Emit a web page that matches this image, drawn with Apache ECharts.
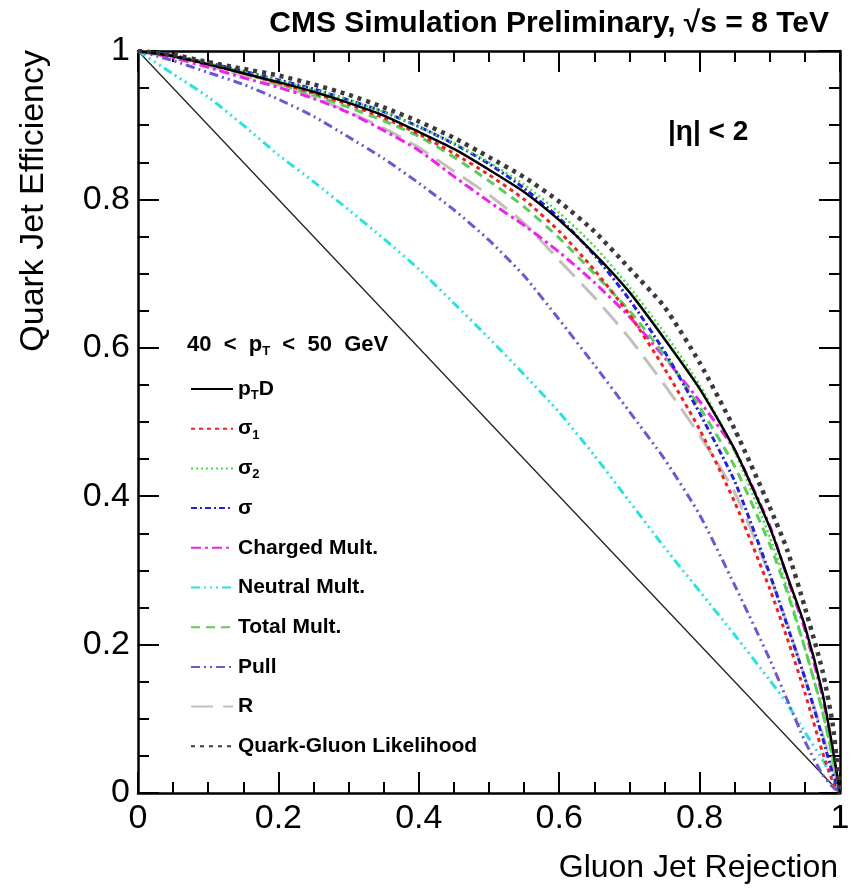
<!DOCTYPE html>
<html>
<head>
<meta charset="utf-8">
<script src="https://cdn.jsdelivr.net/npm/echarts@6/dist/echarts.min.js"></script>
<style>
  html, body { margin: 0; padding: 0; background: #fff; }
  #main { width: 855px; height: 896px; }
</style>
</head>
<body>
<div id="main"></div>
<script>
// gluon jet rejection (x) shared by every curve
var rejection = [0, 0.05, 0.1, 0.15, 0.2, 0.25, 0.3, 0.35, 0.4, 0.45, 0.5, 0.55, 0.6, 0.65, 0.7, 0.75, 0.8, 0.85, 0.9, 0.925, 0.95, 0.975, 0.99, 1];

// quark jet efficiency for each variable
var ptd     = [1, 0.993, 0.982, 0.970, 0.958, 0.945, 0.930, 0.913, 0.891, 0.868, 0.840, 0.810, 0.772, 0.727, 0.675, 0.612, 0.545, 0.463, 0.358, 0.292, 0.225, 0.135, 0.058, 0];
var sigma1  = [1, 0.993, 0.982, 0.970, 0.957, 0.943, 0.928, 0.910, 0.888, 0.862, 0.833, 0.800, 0.757, 0.705, 0.645, 0.572, 0.490, 0.392, 0.275, 0.208, 0.135, 0.055, 0.015, 0];
var sigma2  = [1, 0.993, 0.983, 0.972, 0.960, 0.948, 0.934, 0.918, 0.898, 0.876, 0.850, 0.820, 0.782, 0.737, 0.682, 0.620, 0.550, 0.460, 0.345, 0.275, 0.195, 0.110, 0.045, 0];
var sigma   = [1, 0.994, 0.984, 0.973, 0.961, 0.949, 0.934, 0.918, 0.898, 0.875, 0.848, 0.815, 0.775, 0.725, 0.665, 0.595, 0.512, 0.420, 0.295, 0.225, 0.155, 0.075, 0.025, 0];
var charged = [1, 0.991, 0.978, 0.964, 0.951, 0.936, 0.917, 0.893, 0.866, 0.831, 0.797, 0.765, 0.729, 0.688, 0.642, 0.587, 0.528, 0.462, 0.360, 0.290, 0.220, 0.130, 0.055, 0];
var neutral = [1, 0.969, 0.938, 0.900, 0.860, 0.824, 0.786, 0.747, 0.706, 0.660, 0.613, 0.564, 0.513, 0.455, 0.393, 0.331, 0.272, 0.213, 0.152, 0.120, 0.082, 0.045, 0.018, 0];
var total   = [1, 0.993, 0.983, 0.970, 0.956, 0.941, 0.924, 0.906, 0.885, 0.857, 0.825, 0.790, 0.748, 0.700, 0.650, 0.590, 0.520, 0.440, 0.335, 0.270, 0.195, 0.110, 0.045, 0];
var pull    = [1, 0.987, 0.971, 0.955, 0.935, 0.912, 0.884, 0.855, 0.822, 0.786, 0.745, 0.697, 0.638, 0.577, 0.514, 0.450, 0.375, 0.280, 0.180, 0.125, 0.070, 0.025, 0.008, 0];
var rVar    = [1, 0.992, 0.980, 0.967, 0.954, 0.938, 0.918, 0.896, 0.870, 0.838, 0.806, 0.768, 0.718, 0.668, 0.613, 0.550, 0.482, 0.405, 0.293, 0.228, 0.155, 0.080, 0.032, 0];
var qgl     = [1, 0.995, 0.985, 0.976, 0.967, 0.955, 0.941, 0.924, 0.905, 0.883, 0.857, 0.830, 0.797, 0.757, 0.707, 0.655, 0.580, 0.490, 0.385, 0.327, 0.250, 0.165, 0.090, 0];

// random-guess diagonal
var diagX = [0, 1];
var diagY = [1, 0];

var names = ['ptd', 'sigma1', 'sigma2', 'sigma', 'charged', 'neutral', 'total', 'pull', 'r', 'qgl'];
var labels = {
    ptd: 'p{s|T}D',
    sigma1: 'σ{s|1}',
    sigma2: 'σ{s|2}',
    sigma: 'σ',
    charged: 'Charged Mult.',
    neutral: 'Neutral Mult.',
    total: 'Total Mult.',
    pull: 'Pull',
    r: 'R',
    qgl: 'Quark-Gluon Likelihood'
};

var font = 'Liberation Sans, Arial, sans-serif';

function pairs(xs, ys) {
    var out = [];
    for (var i = 0; i < xs.length; i++) out.push([xs[i], ys[i]]);
    return out;
}

function curve(name, ys, color, width, dash) {
    return {
        name: name,
        type: 'line',
        data: pairs(rejection, ys),
        symbol: 'none',
        smooth: 0.2,
        lineStyle: { color: color, width: width, type: dash },
        itemStyle: { color: color },
        z: 3
    };
}

function xAx(pos, showLabel) {
    return {
        type: 'value', position: pos, min: 0, max: 1, interval: 0.2,
        axisLine: { onZero: false, lineStyle: { color: '#000', width: 2.5 } },
        axisTick: { inside: true, length: 21, lineStyle: { color: '#000', width: 2 } },
        minorTick: { show: true, splitNumber: 4, length: 11, lineStyle: { color: '#000', width: 2 } },
        splitLine: { show: false },
        axisLabel: { show: showLabel, color: '#000', fontSize: 34, fontFamily: font, margin: 9 }
    };
}
function yAx(pos, showLabel) {
    return {
        type: 'value', position: pos, min: 0, max: 1, interval: 0.2,
        axisLine: { onZero: false, lineStyle: { color: '#000', width: 2.5 } },
        axisTick: { inside: true, length: 21, lineStyle: { color: '#000', width: 2 } },
        minorTick: { show: true, splitNumber: 4, length: 11, lineStyle: { color: '#000', width: 2 } },
        splitLine: { show: false },
        axisLabel: { show: showLabel, color: '#000', fontSize: 34, fontFamily: font, margin: 8 }
    };
}

var chart = echarts.init(document.getElementById('main'));

var option = {
    animation: false,
    backgroundColor: '#fff',
    grid: { left: 138, right: 15, top: 51, bottom: 103 },
    xAxis: [xAx('bottom', true), xAx('top', false)],
    yAxis: [yAx('left', true), yAx('right', false)],
    legend: {
        orient: 'vertical',
        left: 190, top: 376, padding: 0,
        itemWidth: 42, itemHeight: 14, itemGap: 13.7,
        selectedMode: false,
        data: names,
        itemStyle: { opacity: 0 },
        formatter: function (n) { return labels[n]; },
        textStyle: {
            color: '#000', fontSize: 21, fontWeight: 'bold', fontFamily: font, lineHeight: 26,
            rich: {
                s: { fontSize: 13, fontWeight: 'bold', fontFamily: font, lineHeight: 12, verticalAlign: 'bottom', color: '#000' }
            }
        }
    },
    graphic: [
        {
            type: 'text', x: 829, y: 24,
            style: { text: 'CMS Simulation Preliminary, √s = 8 TeV', fill: '#000', font: 'bold 30px ' + font, textAlign: 'right', textVerticalAlign: 'middle' }
        },
        {
            type: 'text', x: 668, y: 132,
            style: { text: '|η| < 2', fill: '#000', font: 'bold 28px ' + font, textAlign: 'left', textVerticalAlign: 'middle' }
        },
        {
            type: 'text', x: 187, y: 345,
            style: {
                text: '40  <  p{s|T}  <  50  GeV', fill: '#000', font: 'bold 22px ' + font,
                textAlign: 'left', textVerticalAlign: 'middle', lineHeight: 26,
                rich: { s: { fontSize: 13, fontWeight: 'bold', lineHeight: 12, verticalAlign: 'bottom' } }
            }
        },
        {
            type: 'text', x: 838, y: 868,
            style: { text: 'Gluon Jet Rejection', fill: '#000', font: '32px ' + font, textAlign: 'right', textVerticalAlign: 'middle' }
        },
        {
            type: 'text', x: 34, y: 50, rotation: Math.PI / 2,
            style: { text: 'Quark Jet Efficiency', fill: '#000', font: '34px ' + font, textAlign: 'right', textVerticalAlign: 'middle' }
        }
    ],
    series: [
        {
            name: 'diagonal', type: 'line', data: pairs(diagX, diagY), symbol: 'none',
            lineStyle: { color: '#222', width: 1.3 }, z: 2
        },
        curve('r', rVar, '#c4bfbb', 3, [22, 10]),
        curve('neutral', neutral, '#2ee0e0', 3, [9, 4, 2, 4, 2, 4, 2, 4]),
        curve('pull', pull, '#6a5ad0', 3, [9, 4, 2, 4, 2, 4]),
        curve('charged', charged, '#ee22ee', 3, [10, 4, 3, 4]),
        curve('total', total, '#5ccc5c', 3, [9, 6]),
        curve('sigma1', sigma1, '#ee2222', 3, [4, 4]),
        curve('sigma', sigma, '#2020dd', 3, [6, 3, 2, 3]),
        curve('sigma2', sigma2, '#44dd44', 2.5, [2, 3]),
        curve('ptd', ptd, '#000000', 2.5, 'solid'),
        curve('qgl', qgl, '#3a3a3a', 4.5, [4, 5])
    ]
};

chart.setOption(option);
</script>
</body>
</html>
